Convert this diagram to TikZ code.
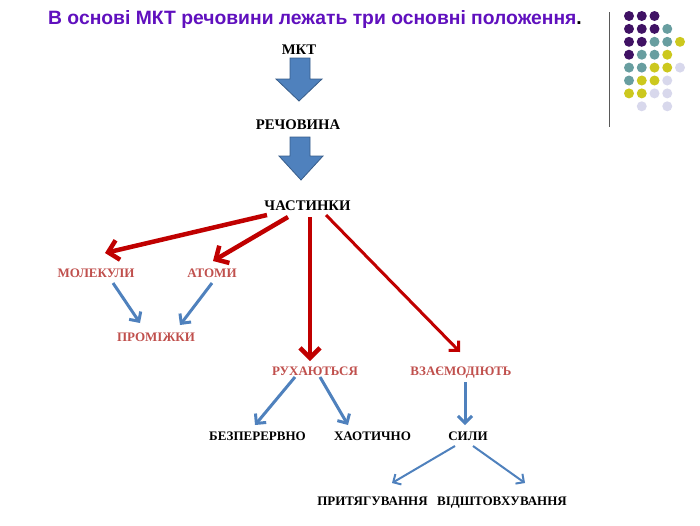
\documentclass[tikz,border=0pt]{standalone}
\usepackage{fontspec}
\setmainfont{Liberation Serif}
\newfontfamily\titlefont{Liberation Sans}
\usetikzlibrary{arrows.meta}
\definecolor{titleviolet}{RGB}{96,16,190}
\definecolor{lblred}{RGB}{192,80,77}
\definecolor{arrred}{RGB}{192,0,0}
\definecolor{arrblue}{RGB}{79,129,189}
\definecolor{blockline}{RGB}{56,93,138}
\definecolor{dotP}{RGB}{64,18,100}
\definecolor{dotT}{RGB}{104,158,160}
\definecolor{dotY}{RGB}{204,200,30}
\definecolor{dotL}{RGB}{216,216,236}

\begin{document}
\begin{tikzpicture}[x=1pt, y=-1pt,
  lbl/.style={font=\bfseries\fontsize{13}{13}\selectfont, text height=9pt,
    text depth=0pt, inner sep=2pt},
  toplbl/.style={lbl, font=\bfseries\fontsize{14.7}{14.7}\selectfont},
  redlbl/.style={lbl, text=lblred},
  blockarr/.style={fill=arrblue, draw=blockline, line width=0.8pt},
  redarr/.style={-{Straight Barb[length=10pt,width=20pt]}, arrred, line width=4.5pt},
  redarrthin/.style={-{Straight Barb[length=7pt,width=14pt]}, arrred, line width=3pt},
  bluearr/.style={-{Straight Barb[length=7pt,width=14pt]}, arrblue, line width=3pt},
  bluearrthin/.style={-{Straight Barb[length=6pt,width=12pt]}, arrblue, line width=2pt}
]
\useasboundingbox (0,0) rectangle (700,525);

% title
\node (title) at (315,20) {\titlefont\bfseries\fontsize{19.3}{19.3}\selectfont
  \textcolor{titleviolet}{В основі МКТ речовини лежать три основні положення}.};

% corner decoration
\draw[gray!70!black, line width=1pt] (609,12) -- (609,127);
\foreach \col/\row/\clr in {0/0/dotP,1/0/dotP,2/0/dotP,
    0/1/dotP,1/1/dotP,2/1/dotP,3/1/dotT,
    0/2/dotP,1/2/dotP,2/2/dotT,3/2/dotT,4/2/dotY,
    0/3/dotP,1/3/dotT,2/3/dotT,3/3/dotY,
    0/4/dotT,1/4/dotT,2/4/dotY,3/4/dotY,4/4/dotL,
    0/5/dotT,1/5/dotY,2/5/dotY,3/5/dotL,
    0/6/dotY,1/6/dotY,2/6/dotL,3/6/dotL,
    1/7/dotL,3/7/dotL}
  \fill[\clr] (629+12.75*\col, 16+12.9*\row) circle (5pt);

% labels
\node[toplbl] (mkt) at (299,50) {МКТ};
\node[toplbl] (rech) at (298,125) {РЕЧОВИНА};
\node[toplbl] (chast) at (307.5,206) {ЧАСТИНКИ};
\node[redlbl] (mol) at (96,273) {МОЛЕКУЛИ};
\node[redlbl] (atomy) at (212,273) {АТОМИ};
\node[redlbl] (prom) at (156,337) {ПРОМІЖКИ};
\node[redlbl] (rukh) at (315,371) {РУХАЮТЬСЯ};
\node[redlbl] (vzaem) at (461,371) {ВЗАЄМОДІЮТЬ};
\node[lbl] (bez) at (257.5,436) {БЕЗПЕРЕРВНО};
\node[lbl] (khaot) at (372.5,436) {ХАОТИЧНО};
\node[lbl] (syly) at (468,436) {СИЛИ};
\node[lbl] (pryt) at (372.5,501) {ПРИТЯГУВАННЯ};
\node[lbl] (vidsht) at (502,501) {ВІДШТОВХУВАННЯ};

% block arrows
\draw[blockarr] (290,58) -- (310,58) -- (310,79) -- (322,79) -- (299,101)
  -- (276,79) -- (290,79) -- cycle;
\draw[blockarr] (290,137) -- (310,137) -- (310,156) -- (323,156) -- (301,180)
  -- (279,156) -- (290,156) -- cycle;

% red arrows
\draw[redarr] ([shift={(-40.5,9)}]chast.center) -- ([shift={(9,-20)}]mol.center);
\draw[redarr] ([shift={(-19.5,11)}]chast.center) -- ([shift={(1,-12)}]atomy.center);
\draw[redarr] ([shift={(2.5,11)}]chast.center) -- ([shift={(-5,-10)}]rukh.center);
\draw[redarrthin] ([shift={(18.5,9)}]chast.center) -- ([shift={(-1,-19)}]vzaem.center);

% blue arrows
\draw[bluearr] ([shift={(17,10)}]mol.center) -- ([shift={(-16,-14)}]prom.center);
\draw[bluearr] ([shift={(0,10)}]atomy.center) -- ([shift={(24,-12)}]prom.center);
\draw[bluearr] ([shift={(-20,6)}]rukh.center) -- ([shift={(-2.5,-11)}]bez.center);
\draw[bluearr] ([shift={(5,6)}]rukh.center) -- ([shift={(-24.5,-11)}]khaot.center);
\draw[bluearr] ([shift={(4,11)}]vzaem.center) -- ([shift={(-3,-11)}]syly.center);
\draw[bluearrthin] ([shift={(-13,10)}]syly.center) -- ([shift={(19.5,-18)}]pryt.center);
\draw[bluearrthin] ([shift={(5,10)}]syly.center) -- ([shift={(23,-18)}]vidsht.center);
\end{tikzpicture}
\end{document}
